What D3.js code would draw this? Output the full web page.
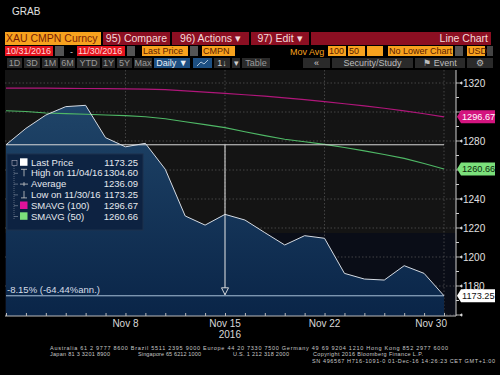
<!DOCTYPE html>
<html lang="en">
<head>
    <style>
        body { margin: 0; background: #000; }
        svg { display: block; }
        text { font-family: "Liberation Sans", Arial, sans-serif; }
    </style>
</head>
<body>
    <svg width="500" height="375"></svg>
    <script src="https://cdn.jsdelivr.net/npm/d3@7"></script>
    <script>
        // Trading days of the window (weekends skipped, like the terminal axis)
        const dates = ["2016-10-31", "2016-11-01", "2016-11-02", "2016-11-03", "2016-11-04",
            "2016-11-07", "2016-11-08", "2016-11-09", "2016-11-10", "2016-11-11",
            "2016-11-14", "2016-11-15", "2016-11-16", "2016-11-17", "2016-11-18",
            "2016-11-21", "2016-11-22", "2016-11-23", "2016-11-24", "2016-11-25",
            "2016-11-28", "2016-11-29", "2016-11-30"];
        const lastPrice = [1277.4, 1288.7, 1297.9, 1303.7, 1304.6, 1282.3, 1276.0, 1278.4, 1260.5, 1228.3,
            1222.0, 1229.4, 1225.5, 1216.8, 1208.3, 1214.7, 1212.9, 1188.7, 1184.8, 1184.1,
            1194.0, 1188.7, 1173.25];
        const smavg100 = [1316.5, 1316.5, 1316.4, 1316.3, 1316.2, 1316.1, 1316.0, 1315.8, 1315.4, 1314.6,
            1313.7, 1312.8, 1311.9, 1310.9, 1309.8, 1308.5, 1307.1, 1305.7, 1304.2, 1302.6,
            1300.8, 1298.8, 1296.67];
        const smavg50 = [1300.9, 1300.3, 1299.3, 1298.9, 1298.4, 1297.9, 1297.5, 1296.7, 1295.3, 1293.3,
            1291.3, 1289.2, 1286.4, 1283.7, 1281.2, 1279.5, 1277.7, 1275.5, 1273.2, 1270.7,
            1268.0, 1264.5, 1260.66];

        const xTickDates = ["2016-11-08", "2016-11-15", "2016-11-22", "2016-11-30"];
        const xTickLabels = ["Nov 8", "Nov 15", "Nov 22", "Nov 30"];
        const yMajorTicks = [1160, 1180, 1200, 1220, 1240, 1260, 1280, 1300, 1320];
        const yMinorTicks = [1170, 1190, 1210, 1230, 1250, 1270, 1290, 1310];

        const legendLabels = ["Last Price", "High on 11/04/16", "Average", "Low on 11/30/16", "SMAVG (100)", "SMAVG (50)"];
        const legendValues = ["1173.25", "1304.60", "1236.09", "1173.25", "1296.67", "1260.66"];

        const svg = d3.select("svg");

        /************************************************************************************
        * Header + toolbars
        ************************************************************************************/
        svg.append("text").attr("x", 12).attr("y", 15).attr("font-size", 10)
            .attr("fill", "#e0e0e0").text("GRAB");

        const orange = "#f7a21e", darkRed = "#8c0f22", brightRed = "#e5141e", btnGray = "#2a2a2a", blue = "#1d4f82";

        // [x, y, w, h, fill, label, textColor, anchor]
        const boxes = [
            [5, 32, 96, 13, orange, "XAU CMPN Curncy", "#7a1d05", "start"],
            [103, 32, 67, 13, darkRed, "95) Compare", "#f3dada", "middle"],
            [172, 32, 77, 13, darkRed, "96) Actions \u25BE", "#f3dada", "middle"],
            [251, 32, 58, 13, darkRed, "97) Edit  \u25BE", "#f3dada", "middle"],
            [311, 32, 180, 13, darkRed, "Line Chart", "#f3dada", "end"],
            [5, 46, 48, 10, brightRed, "10/31/2016", "#ffd9d9", "start"],
            [55, 46, 9, 10, "#555", "", "#ccc", "start"],
            [77, 46, 48, 10, brightRed, "11/30/2016", "#ffd9d9", "start"],
            [127, 46, 8, 10, "#555", "", "#ccc", "start"],
            [142, 46, 46, 10, orange, "Last Price", "#5a2000", "start"],
            [190, 46, 8, 10, "#555", "", "#ccc", "start"],
            [202, 46, 33, 10, orange, "CMPN", "#5a2000", "start"],
            [328, 46, 18, 10, orange, "100", "#5a2000", "start"],
            [348, 46, 17, 10, orange, "50", "#5a2000", "start"],
            [367, 46, 16, 10, orange, "", "#5a2000", "start"],
            [388, 46, 65, 10, orange, "No Lower Chart", "#5a2000", "start"],
            [455, 46, 8, 10, "#555", "", "#ccc", "start"],
            [467, 46, 18, 10, orange, "USD", "#5a2000", "start"],
            [487, 46, 6, 10, "#444", "", "#ccc", "start"],
            [7, 58, 15, 10, btnGray, "1D", "#9a9a9a", "middle"],
            [24, 58, 16, 10, btnGray, "3D", "#9a9a9a", "middle"],
            [42, 58, 16, 10, btnGray, "1M", "#9a9a9a", "middle"],
            [60, 58, 15, 10, btnGray, "6M", "#9a9a9a", "middle"],
            [77, 58, 23, 10, btnGray, "YTD", "#9a9a9a", "middle"],
            [102, 58, 13, 10, btnGray, "1Y", "#9a9a9a", "middle"],
            [117, 58, 15, 10, btnGray, "5Y", "#9a9a9a", "middle"],
            [134, 58, 18, 10, btnGray, "Max", "#9a9a9a", "middle"],
            [154, 58, 36, 10, blue, "Daily \u25BC", "#e8eef5", "middle"],
            [193, 58, 19, 10, blue, "", "#e8eef5", "middle"],
            [214, 58, 16, 10, btnGray, "1\u2193", "#cfcfcf", "middle"],
            [232, 58, 8, 10, btnGray, "\u25BE", "#cfcfcf", "middle"],
            [242, 58, 28, 10, btnGray, "Table", "#9a9a9a", "middle"],
            [303, 58, 27, 10, btnGray, "\u00AB", "#cfcfcf", "middle"],
            [332, 58, 81, 10, btnGray, "Security/Study", "#bdbdbd", "middle"],
            [415, 58, 50, 10, btnGray, "\u2691  Event", "#bdbdbd", "middle"],
            [467, 58, 26, 10, btnGray, "\u2699", "#bdbdbd", "middle"]
        ];
        const boxG = svg.append("g").selectAll("g").data(boxes).enter().append("g");
        boxG.append("rect")
            .attr("x", d => d[0]).attr("y", d => d[1])
            .attr("width", d => d[2]).attr("height", d => d[3])
            .attr("fill", d => d[4]);
        boxG.append("text")
            .attr("x", d => d[7] === "start" ? d[0] + 1 : d[7] === "end" ? d[0] + d[2] - 3 : d[0] + d[2] / 2)
            .attr("y", d => d[1] + d[3] / 2 + (d[3] > 11 ? 3.8 : 3.3))
            .attr("text-anchor", d => d[7])
            .attr("font-size", d => d[3] > 11 ? 10.5 : 9)
            .attr("fill", d => d[6])
            .text(d => d[5]);
        svg.append("text").attr("x", 290).attr("y", 54.5).attr("font-size", 9)
            .attr("fill", orange).text("Mov Avg");
        svg.append("text").attr("x", 70).attr("y", 54.5).attr("font-size", 9)
            .attr("fill", "#ccc").text("-");
        // small chart icon in the blue button
        svg.append("path").attr("d", "M197,66 L201,62 L204,64 L208,60").attr("fill", "none")
            .attr("stroke", "#cfe0f0").attr("stroke-width", 0.8);

        /************************************************************************************
        * Plot area
        ************************************************************************************/
        const plot = { left: 5, right: 456, top: 70, bottom: 316 };
        svg.append("rect").attr("x", plot.left).attr("y", plot.top)
            .attr("width", plot.right - plot.left).attr("height", plot.bottom - plot.top)
            .attr("fill", "#141414");
        svg.append("rect").attr("x", plot.left).attr("y", 233)
            .attr("width", plot.right - plot.left).attr("height", plot.bottom - 233)
            .attr("fill", "#0a0d17");

        const x = d3.scalePoint().domain(dates).range([6, 444]);
        const y = d3.scaleLinear().domain([1180, 1320]).range([286, 83]);

        // Grid
        const grid = svg.append("g").attr("stroke", "#5a5a5a").attr("stroke-width", 0.7)
            .attr("stroke-dasharray", "1.5,2");
        grid.selectAll(".h").data(yMajorTicks).enter().append("line")
            .attr("x1", plot.left).attr("x2", plot.right)
            .attr("y1", d => y(d)).attr("y2", d => y(d));
        grid.selectAll(".v").data(xTickDates).enter().append("line")
            .attr("x1", d => x(d)).attr("x2", d => x(d))
            .attr("y1", plot.top).attr("y2", plot.bottom);

        // Gradient for area
        const defs = svg.append("defs");
        const grad = defs.append("linearGradient").attr("id", "areaGrad")
            .attr("x1", 0).attr("y1", 0).attr("x2", 0).attr("y2", 1);
        grad.append("stop").attr("offset", "0%").attr("stop-color", "#1f4468");
        grad.append("stop").attr("offset", "100%").attr("stop-color", "#0a2548");

        const area = d3.area()
            .x((d, i) => x(dates[i]))
            .y0(plot.bottom)
            .y1(d => y(d));
        svg.append("path").datum(lastPrice).attr("d", area).attr("fill", "url(#areaGrad)");

        const line = d3.line().x((d, i) => x(dates[i])).y(d => y(d));
        svg.append("path").datum(smavg100).attr("d", line).attr("fill", "none")
            .attr("stroke", "#b0167a").attr("stroke-width", 1.2);
        svg.append("path").datum(smavg50).attr("d", line).attr("fill", "none")
            .attr("stroke", "#4fb866").attr("stroke-width", 1.1);

        // Start / low reference lines
        const first = lastPrice[0];
        const low = d3.min(lastPrice);
        svg.append("line").attr("x1", x(dates[0])).attr("x2", 444)
            .attr("y1", y(first)).attr("y2", y(first))
            .attr("stroke", "#d8d8d8").attr("stroke-width", 1);
        svg.append("line").attr("x1", x(dates[0])).attr("x2", 444)
            .attr("y1", y(low)).attr("y2", y(low))
            .attr("stroke", "#a9c0d8").attr("stroke-width", 1);

        svg.append("path").datum(lastPrice).attr("d", line).attr("fill", "none")
            .attr("stroke", "#d5dbe3").attr("stroke-width", 1);

        // Measure arrow at Nov 15
        const mx = x("2016-11-15");
        svg.append("line").attr("x1", mx).attr("x2", mx)
            .attr("y1", y(first)).attr("y2", y(low) - 1)
            .attr("stroke", "#e8e8e8").attr("stroke-width", 1);
        svg.append("path")
            .attr("d", `M${mx - 3.5},${y(low) - 8} L${mx + 3.5},${y(low) - 8} L${mx},${y(low) - 1} Z`)
            .attr("fill", "#0e2a4c").attr("stroke", "#e8e8e8").attr("stroke-width", 0.9);
        svg.append("text").attr("x", 7).attr("y", y(low) - 2.5).attr("font-size", 9.5)
            .attr("fill", "#d6dde8").text("-8.15% (-64.44%ann.)");

        /************************************************************************************
        * Axes
        ************************************************************************************/
        const callouts = [
            [smavg100[smavg100.length - 1], "#d4147f", "#ffffff"],
            [smavg50[smavg50.length - 1], "#7be07b", "#0b2a0b"],
            [lastPrice[lastPrice.length - 1], "#ffffff", "#111111"]
        ];

        const yAxis = svg.append("g").attr("transform", `translate(${plot.right},0)`);
        yAxis.append("line").attr("x1", 0).attr("x2", 0).attr("y1", plot.top).attr("y2", plot.bottom)
            .attr("stroke", "#cfcfcf");
        yAxis.selectAll(".maj").data(yMajorTicks).enter().append("path")
            .attr("d", d => `M0,${y(d)} L4,${y(d)} L6,${y(d) - 1.2} L6,${y(d) + 1.2} L4,${y(d)}`)
            .attr("stroke", "#e0e0e0").attr("fill", "#e0e0e0").attr("stroke-width", 0.8);
        yAxis.selectAll(".min").data(yMinorTicks).enter().append("line")
            .attr("x1", 0).attr("x2", 3).attr("y1", d => y(d)).attr("y2", d => y(d))
            .attr("stroke", "#cfcfcf");
        // labels hidden under a callout box are not drawn
        const visibleLabels = yMajorTicks.filter(t => t >= 1180 &&
            callouts.every(c => Math.abs(y(c[0]) - y(t)) > 9));
        yAxis.selectAll(".lab").data(visibleLabels).enter().append("text")
            .attr("x", 7).attr("y", d => y(d) + 3.6).attr("font-size", 10)
            .attr("fill", "#e0e0e0").text(d => d);

        const xAxis = d3.axisBottom(x).tickSize(-3).tickFormat("");
        svg.append("g").attr("transform", `translate(0,${plot.bottom})`).call(xAxis)
            .call(g => g.select(".domain").attr("stroke", "#bbb").attr("d", `M${plot.left},0H${plot.right}`))
            .call(g => g.selectAll(".tick line").attr("stroke", "#bbb"));
        svg.append("g").selectAll("text").data(xTickDates).enter().append("text")
            .attr("x", (d, i) => i === xTickDates.length - 1 ? x(d) + 3 : x(d))
            .attr("y", 327).attr("font-size", 10).attr("fill", "#d8d8d8")
            .attr("text-anchor", (d, i) => i === xTickDates.length - 1 ? "end" : "middle")
            .text((d, i) => xTickLabels[i]);
        svg.append("text").attr("x", 241).attr("y", 338).attr("font-size", 10)
            .attr("fill", "#d8d8d8").attr("text-anchor", "end").text("2016");

        // Value callouts on the right axis
        const cg = svg.append("g").selectAll("g").data(callouts).enter().append("g")
            .attr("transform", d => `translate(${plot.right + 1},${y(d[0])})`);
        cg.append("path").attr("d", "M0,0 L4,-6.5 L38,-6.5 L38,6.5 L4,6.5 Z").attr("fill", d => d[1]);
        cg.append("text").attr("x", 5).attr("y", 3.3).attr("font-size", 9.2)
            .attr("fill", d => d[2]).text(d => d[0].toFixed(2));

        /************************************************************************************
        * Legend
        ************************************************************************************/
        const lg = svg.append("g");
        lg.append("rect").attr("x", 7).attr("y", 154).attr("width", 136).attr("height", 76)
            .attr("fill", "#0d2240").attr("fill-opacity", 0.95).attr("stroke", "#1c314c");
        const rowY = i => 165.5 + i * 10.8;
        lg.append("line").attr("x1", 14).attr("x2", 14).attr("y1", 166).attr("y2", rowY(5))
            .attr("stroke", "#8a96a6").attr("stroke-dasharray", "1,1").attr("stroke-width", 0.6);
        lg.append("rect").attr("x", 12).attr("y", 160.5).attr("width", 5).attr("height", 5)
            .attr("fill", "#0d2240").attr("stroke", "#aab").attr("stroke-width", 0.6);
        lg.selectAll(".br").data(d3.range(1, 6)).enter().append("line")
            .attr("x1", 14).attr("x2", 18).attr("y1", d => rowY(d) - 3).attr("y2", d => rowY(d) - 3)
            .attr("stroke", "#8a96a6").attr("stroke-width", 0.6);
        const swatch = ["#ffffff", null, null, null, "#e0129a", "#7be07b"];
        lg.selectAll(".sw").data(swatch).enter().filter(d => d).append("rect")
            .attr("x", 20).attr("width", 7.5).attr("height", 7.5)
            .attr("fill", d => d)
            .attr("y", d => rowY(swatch.indexOf(d)) - 7.2);
        // high / average / low markers
        lg.append("path").attr("d", `M21,${rowY(1) - 7} H27 M24,${rowY(1) - 7} V${rowY(1)}`)
            .attr("stroke", "#ccc").attr("stroke-width", 0.8);
        lg.append("path").attr("d", `M20,${rowY(2) - 3} H28 M24,${rowY(2) - 5} V${rowY(2) - 1}`)
            .attr("stroke", "#ccc").attr("stroke-width", 0.8);
        lg.append("path").attr("d", `M21,${rowY(3)} H27 M24,${rowY(3)} V${rowY(3) - 7}`)
            .attr("stroke", "#ccc").attr("stroke-width", 0.8);
        lg.selectAll(".lt").data(legendLabels).enter().append("text")
            .attr("x", 31).attr("y", (d, i) => rowY(i)).attr("font-size", 9.5)
            .attr("fill", "#e4e8ee").text(d => d);
        lg.selectAll(".lv").data(legendValues).enter().append("text")
            .attr("x", 138).attr("y", (d, i) => rowY(i)).attr("font-size", 9.5)
            .attr("text-anchor", "end").attr("fill", "#e4e8ee").text(d => d);

        /************************************************************************************
        * Footer
        ************************************************************************************/
        const foot = svg.append("g").attr("font-size", 5.5).attr("fill", "#c8c8c8")
            .style("font-family", "'DejaVu Sans Mono', monospace");
        foot.append("text").attr("x", 50).attr("y", 350).attr("textLength", 398)
            .text("Australia 61 2 9777 8600 Brazil 5511 2395 9000 Europe 44 20 7330 7500 Germany 49 69 9204 1210 Hong Kong 852 2977 6000");
        foot.append("text").attr("x", 50).attr("y", 356).attr("textLength", 60).text("Japan 81 3 3201 8900");
        foot.append("text").attr("x", 138).attr("y", 356).attr("textLength", 63).text("Singapore 65 6212 1000");
        foot.append("text").attr("x", 233).attr("y", 356).attr("textLength", 56).text("U.S. 1 212 318 2000");
        foot.append("text").attr("x", 313).attr("y", 356).attr("textLength", 110).text("Copyright 2016 Bloomberg Finance L.P.");
        foot.append("text").attr("x", 312).attr("y", 363).attr("textLength", 183)
            .text("SN 496567 H716-1091-0 01-Dec-16 14:26:23 CET  GMT+1:00");
    </script>
</body>
</html>
